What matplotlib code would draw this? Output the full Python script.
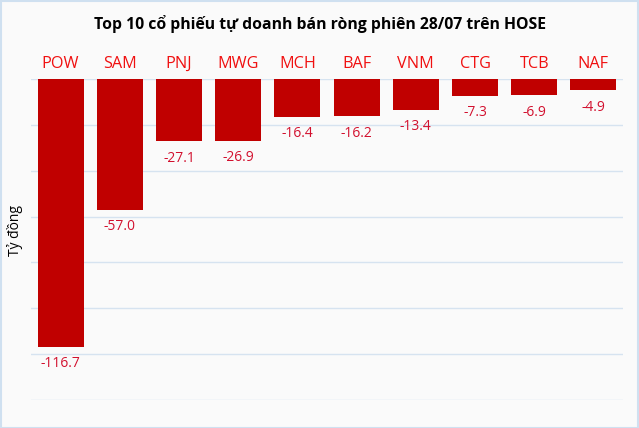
import matplotlib.pyplot as plt
import numpy as np

plt.rcParams['font.family'] = ['Open Sans', 'DejaVu Sans']

tickers = ['POW', 'SAM', 'PNJ', 'MWG', 'MCH', 'BAF', 'VNM', 'CTG', 'TCB', 'NAF']
values = [-116.7, -57.0, -27.1, -26.9, -16.4, -16.2, -13.4, -7.3, -6.9, -4.9]

fig = plt.figure(figsize=(6.39, 4.28), dpi=100, facecolor='#fafafa')
ax = fig.add_axes([31/639, 28/428, 592/639, 321/428])
ax.set_facecolor('#fafafa')

x = np.arange(len(tickers))
ax.bar(x, values, width=0.78, color='#c00000', zorder=2)

for xi, v in zip(x, values):
    ax.annotate('%.1f' % v, (xi, v), xytext=(0, -7), textcoords='offset points',
                ha='center', va='top', fontsize=10, color='#d2102e')

ax.set_xlim(-0.5, len(tickers) - 0.5)
ax.set_ylim(-140, 0)
ax.set_yticks(np.arange(-140, 1, 20))
ax.set_yticklabels([])
ax.tick_params(axis='y', length=0)
ax.grid(axis='y', color='#d6e3f0', linewidth=1, zorder=0)
ax.xaxis.tick_top()
ax.set_xticks(x)
ax.set_xticklabels(tickers, color='#f01010', fontsize=11.7)
ax.tick_params(axis='x', length=0, pad=5)
for s in ax.spines.values():
    s.set_visible(False)

fig.text(15/639, 1 - 230/428, 'Tỷ đồng', rotation=90, fontsize=10,
         ha='center', va='center')
fig.text(0.5, 1 - 24/428, 'Top 10 cổ phiếu tự doanh bán ròng phiên 28/07 trên HOSE',
         fontsize=11.3, fontweight='bold', ha='center', va='center')

# light border around the figure
fig.patches.append(plt.Rectangle((0.001, 0.001), 0.998, 0.997, transform=fig.transFigure,
                                 fill=False, edgecolor='#cfe0f0', linewidth=1.5))

fig.savefig('out.png', dpi=100, facecolor=fig.get_facecolor())
